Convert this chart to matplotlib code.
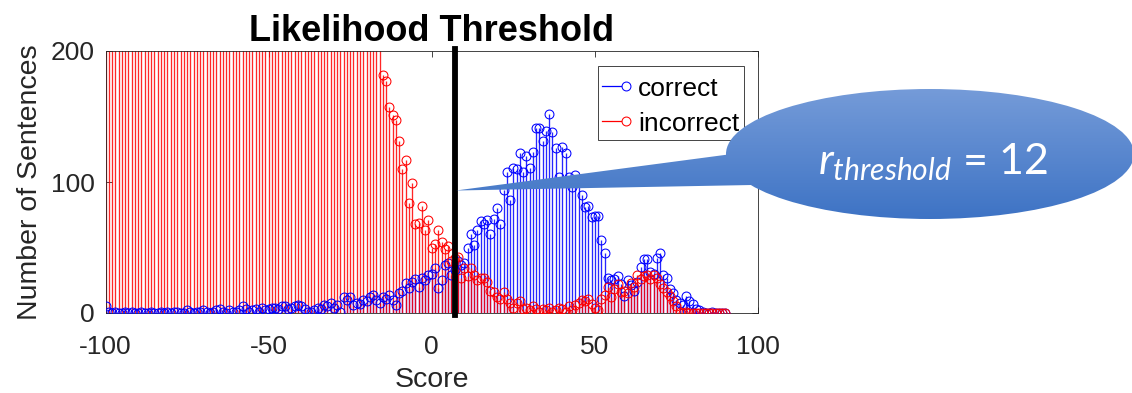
import numpy as np
import matplotlib
matplotlib.use("Agg")
import matplotlib.pyplot as plt
from matplotlib.patches import Ellipse, Polygon, Rectangle
from matplotlib.lines import Line2D

# ---- data -------------------------------------------------------------
score_bins = np.arange(-100, 91)

correct_counts = [
    5,
    1, 0, 1, 0, 0, 1, 0, 1, 0,
    0, 1, 0, 0, 1, 0, 0, 1, 0, 1,
    0, 1, 1, 0, 0, 2, 1, 0, 1, 1,
    2, 1, 0, 1, 2, 3, 1, 0, 2, 1,
    1, 2, 5, 3, 1, 2, 3, 1, 4, 2,
    3, 4, 4, 3, 5, 5, 3, 4, 5, 6,
    5, 3, 1, 1, 2, 4, 3, 6, 5, 8,
    4, 6, 1, 12, 10, 12, 6, 8, 7, 10,
    9, 12, 14, 10, 8, 12, 11, 14, 10, 6,
    15, 17, 23, 19, 24, 26, 20, 27, 25, 29,
    30, 34, 19, 25, 37, 38, 29, 33, 40, 37,
    38, 50, 60, 52, 63, 70, 68, 71, 60, 72,
    80, 68, 94, 108, 86, 111, 110, 122, 108, 120,
    111, 123, 141, 141, 131, 139, 152, 138, 126, 104,
    127, 122, 104, 96, 105, 100, 90, 81, 82, 73,
    74, 74, 56, 46, 27, 25, 26, 28, 22, 13,
    25, 21, 17, 24, 35, 41, 41, 31, 30, 42,
    46, 29, 27, 18, 15, 10, 8, 6, 13, 9,
    7, 3, 2, 1, 0, 0, 1, 0, 0, 0, 0,
]

incorrect_counts = [
    820, 805, 812, 790, 798, 776, 781, 760, 768, 745,
    752, 731, 738, 716, 722, 700, 706, 686, 690, 668,
    674, 652, 658, 637, 640, 620, 624, 603, 606, 587,
    590, 571, 574, 555, 557, 539, 540, 522, 524, 506,
    507, 490, 491, 474, 474, 458, 457, 442, 441, 426,
    424, 410, 408, 394, 391, 378, 375, 362, 358, 346,
    342, 330, 326, 315, 310, 300, 294, 286, 279, 271,
    265, 259, 252, 247, 241, 236, 231, 227, 222, 219,
    216, 213, 210, 208, 206,
    182, 177, 157, 151, 147,
    131, 110, 117, 84, 99, 68, 69, 82, 63, 71,
    50, 53, 63, 54, 49, 51, 40, 42, 43, 27,
    34, 28, 34, 29, 25, 27, 27, 24, 17, 16,
    12, 11, 16, 11, 8, 4, 8, 9, 3, 4,
    2, 5, 3, 1, 3, 2, 4, 1, 2, 4,
    3, 1, 5, 2, 6, 8, 10, 9, 11, 7,
    4, 2, 11, 14, 20, 12, 18, 22, 16, 17,
    15, 23, 20, 29, 26, 28, 29, 26, 29, 27,
    22, 19, 16, 13, 9, 5, 1, 0, 1, 0,
    0, 0, 0, 0, 0, 0, 0, 0, 0, 0, 0,
]

series_names = ["correct", "incorrect"]
threshold_score = 7
threshold_text_value = 12
x_ticks = [-100, -50, 0, 50, 100]
y_ticks = [0, 100, 200]

# ---- style ------------------------------------------------------------
plt.rcParams['font.family'] = ['Liberation Sans', 'DejaVu Sans']
plt.rcParams['mathtext.fontset'] = 'custom'
plt.rcParams['mathtext.rm'] = 'Lato'
plt.rcParams['mathtext.it'] = 'Lato:italic'

AX_COLOR = '#262626'
W, H = 1132, 393
MS = 6.4
MEW = 0.75

fig = plt.figure(figsize=(W / 100, H / 100), dpi=100)
ax = fig.add_axes([105.5 / W, 1 - 313 / H, 652.5 / W, 262 / H])

# ---- stems ------------------------------------------------------------
stem_c = ax.stem(score_bins, correct_counts, linefmt='b-', markerfmt='bo', basefmt=' ')
stem_i = ax.stem(score_bins, incorrect_counts, linefmt='r-', markerfmt='ro', basefmt=' ')

for cont, col, zl, zm in [(stem_c, (0, 0, 1), 2.0, 3.0), (stem_i, (1, 0, 0), 2.1, 3.1)]:
    cont.stemlines.set_color(col)
    cont.stemlines.set_linewidth(0.95)
    cont.stemlines.set_alpha(0.85)
    cont.stemlines.set_zorder(zl)
    cont.markerline.set_markerfacecolor('none')
    cont.markerline.set_markeredgecolor(col)
    cont.markerline.set_markersize(MS)
    cont.markerline.set_markeredgewidth(MEW)
    cont.markerline.set_zorder(zm)
    cont.baseline.set_visible(False)

# threshold marker
ax.axvline(threshold_score, ymin=-0.008, ymax=1.008, color='black', lw=4.2,
           zorder=4, clip_on=False)

ax.set_xlim(-100, 100)
ax.set_ylim(0, 200)
ax.set_xticks(x_ticks)
ax.set_yticks(y_ticks)
ax.set_xticklabels([str(v) for v in x_ticks])
ax.set_yticklabels([str(v) for v in y_ticks])

for sp in ax.spines.values():
    sp.set_color(AX_COLOR)
    sp.set_linewidth(0.6)
ax.tick_params(direction='in', length=4.5, width=0.6, top=True, right=True,
               colors=AX_COLOR, labelsize=19)
ax.tick_params(axis='x', pad=15.5)
ax.tick_params(axis='y', pad=7.5)

ax.set_xlabel('Score', fontsize=20.5, color=AX_COLOR)
ax.xaxis.set_label_coords(0.5, -0.205)
ax.set_ylabel('Number of Sentences', fontsize=20.5, color=AX_COLOR)
ax.yaxis.set_label_coords(-0.0958, 0.5)
ax.set_title('Likelihood Threshold', fontsize=26, fontweight='bold', color='black', pad=7)

# ---- legend box -------------------------------------------------------
ax.add_patch(Rectangle((0.755, 0.660), 0.2235, 0.283, transform=ax.transAxes,
                       facecolor='white', edgecolor=AX_COLOR, lw=0.6, zorder=5))
for name, col, yl, yb in [(series_names[0], (0, 0, 1), 0.866, 0.828),
                          (series_names[1], (1, 0, 0), 0.733, 0.696)]:
    ax.add_line(Line2D([0.761, 0.798], [yl, yl], transform=ax.transAxes,
                       color=col, lw=0.9, zorder=6))
    ax.add_line(Line2D([0.798], [yl], transform=ax.transAxes, marker='o',
                       markersize=MS, markerfacecolor='white', markeredgecolor=col,
                       markeredgewidth=MEW, zorder=6))
    ax.text(0.816, yb, name, transform=ax.transAxes, fontsize=19, color='black',
            va='baseline', ha='left', zorder=6)

# ---- callout ----------------------------------------------------------
ov = fig.add_axes([0, 0, 1, 1], zorder=10)
ov.set_xlim(0, W)
ov.set_ylim(H, 0)
ov.axis('off')

top_col = np.array([0.46, 0.61, 0.85])
bot_col = np.array([0.24, 0.45, 0.77])
t = np.linspace(0, 1, 256)[:, None]
grad = (top_col[None, :] * (1 - t) + bot_col[None, :] * t)[:, None, :]

bubble = Ellipse((930, 154), 408, 130, transform=ov.transData)
tail = Polygon([(456, 190.5), (732, 154), (752, 185)], closed=True, transform=ov.transData)
for shape in (bubble, tail):
    im = ov.imshow(grad, extent=[440, 1140, 220, 88], aspect='auto',
                   interpolation='bilinear', zorder=1)
    im.set_clip_path(shape)
ov.set_xlim(0, W)
ov.set_ylim(H, 0)

ov.text(818, 174, r'$r_{threshold}$' + f' = {threshold_text_value}', color='white',
        fontsize=31, family='Lato', ha='left', va='baseline', zorder=3)

fig.savefig('out.png', dpi=100)
